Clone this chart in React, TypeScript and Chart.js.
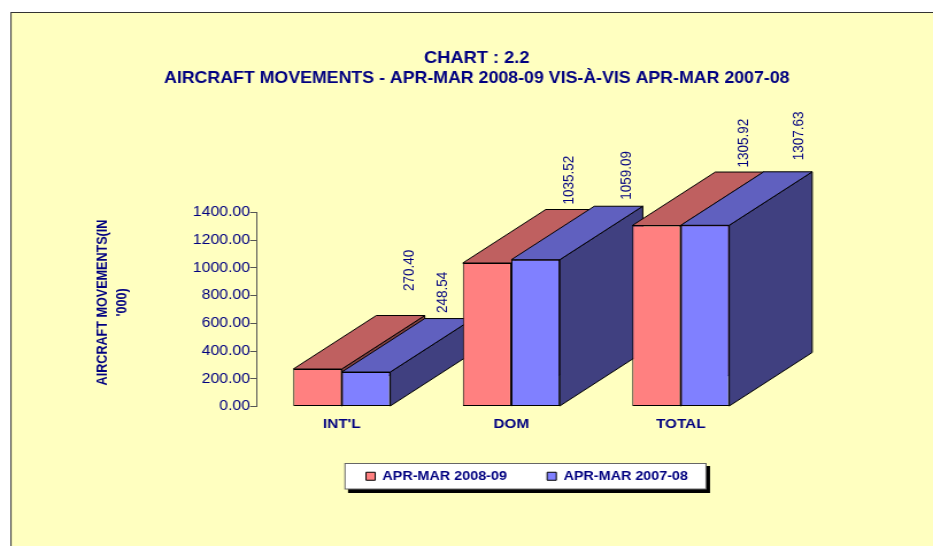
import React, { useEffect, useRef } from "react";
import { Chart, registerables } from "chart.js";

Chart.register(...registerables);

const categories = ["INT'L", "DOM", "TOTAL"];
const seriesNames = ["APR-MAR 2008-09", "APR-MAR 2007-08"];
const values2008 = [270.4, 1035.52, 1305.92];
const values2007 = [248.54, 1059.09, 1307.63];
const yTitleLines = ["AIRCRAFT MOVEMENTS(IN", "'000)"];
const titleLines = ["CHART : 2.2", "AIRCRAFT MOVEMENTS - APR-MAR 2008-09 VIS-À-VIS APR-MAR 2007-08"];

// the reference is horizontally stretched: the canvas is drawn narrow and displayed at full width
const PAGE_W = 933;
const PAGE_H = 546;
const SX = 1.149;
const W = Math.round(PAGE_W / SX);
const px = (x: number) => x / SX;

const NAVY = "#000080";
const BG = "#FFFFC0";
const fronts = ["#FF8080", "#8080FF"];
const tops = ["#BF6060", "#6060BF"];
const sides = ["#804040", "#404080"];
const DX = px(83);
const DY = -53.5;
// label nudges: [dataset][category] -> [x (page px), y]
const labelNudges = [
  [[8.5, -24.5], [-0.5, -5], [4, -4.5]],
  [[-6, -5.5], [8.2, -6.5], [10.5, -11.5]],
];

const threeD = {
  id: "threeD",
  beforeDraw(chart: any) {
    const { ctx } = chart;
    ctx.save();
    ctx.fillStyle = "#fff";
    ctx.fillRect(0, 0, chart.width, chart.height);
    ctx.fillStyle = BG;
    ctx.strokeStyle = "#333";
    ctx.lineWidth = 1;
    ctx.fillRect(px(11), 12.5, chart.width, chart.height);
    ctx.strokeRect(px(11), 12.5, chart.width + 20, chart.height + 20);
    // legend panel
    ctx.fillStyle = "#000";
    ctx.fillRect(px(348), 466, px(362), 27);
    ctx.fillStyle = "#fff";
    ctx.strokeStyle = "#666";
    ctx.fillRect(px(345), 463.5, px(361), 25.5);
    ctx.strokeRect(px(345), 463.5, px(361), 25.5);
    ctx.restore();
  },
  afterLayout(chart: any) {
    const t = chart.titleBlock;
    t.left += px(24);
    t.right += px(24);
    const l = chart.legend;
    const shift = px(527) - (l.left + l.right) / 2;
    l.left += shift;
    l.right += shift;
    l.top = 477 - 35 - 7;
  },
  beforeDatasetsDraw(chart: any) {
    const { ctx } = chart;
    const n = chart.data.labels.length;
    for (let c = 0; c < n; c++) {
      chart.data.datasets.forEach((_: any, d: number) => {
        const bar = chart.getDatasetMeta(d).data[c];
        const { x, y, base, width } = bar.getProps(["x", "y", "base", "width"], true);
        const l = x - width / 2;
        const r = x + width / 2;
        ctx.save();
        ctx.strokeStyle = "#000";
        ctx.lineWidth = 1;
        ctx.lineJoin = "round";
        ctx.fillStyle = sides[d];
        ctx.beginPath();
        ctx.moveTo(r, y);
        ctx.lineTo(r + DX, y + DY);
        ctx.lineTo(r + DX, base + DY);
        ctx.lineTo(r, base);
        ctx.closePath();
        ctx.fill();
        ctx.stroke();
        ctx.fillStyle = tops[d];
        ctx.beginPath();
        ctx.moveTo(l, y);
        ctx.lineTo(l + DX, y + DY);
        ctx.lineTo(r + DX, y + DY);
        ctx.lineTo(r, y);
        ctx.closePath();
        ctx.fill();
        ctx.stroke();
        ctx.restore();
        bar.draw(ctx);
      });
    }
    return false;
  },
  afterDraw(chart: any) {
    const { ctx } = chart;
    ctx.save();
    ctx.fillStyle = NAVY;
    ctx.textBaseline = "middle";
    ctx.textAlign = "left";
    ctx.font = "13.5px 'Liberation Sans'";
    chart.data.datasets.forEach((ds: any, d: number) => {
      ds.data.forEach((v: number, c: number) => {
        const bar = chart.getDatasetMeta(d).data[c];
        const [nx, ny] = labelNudges[d][c];
        ctx.save();
        ctx.translate(bar.x + DX + px(nx), bar.y + DY + ny);
        ctx.rotate(-Math.PI / 2);
        ctx.fillText(v.toFixed(2), 0, 0);
        ctx.restore();
      });
    });
    // two-line rotated y axis title
    ctx.font = "bold 12.6px 'Liberation Sans'";
    ctx.textAlign = "center";
    yTitleLines.forEach((line, i) => {
      ctx.save();
      ctx.translate(px(103 + i * 19.5), 302.5);
      ctx.rotate(-Math.PI / 2);
      ctx.fillText(line, 0, 0);
      ctx.restore();
    });
    ctx.restore();
  },
};

export default function App() {
  const ref = useRef<HTMLCanvasElement>(null);
  useEffect(() => {
    const chart = new Chart(ref.current!, {
      type: "bar",
      data: {
        labels: categories,
        datasets: [values2008, values2007].map((data, i) => ({
          label: seriesNames[i],
          data,
          backgroundColor: fronts[i],
          borderColor: "#000",
          borderWidth: 1,
          borderSkipped: false,
          categoryPercentage: 0.572,
          barPercentage: 1,
        })),
      },
      options: {
        animation: false,
        responsive: false,
        devicePixelRatio: 1,
        layout: { padding: { left: px(140), right: PAGE_W / SX - px(765.5), top: 0, bottom: 0 } },
        plugins: {
          title: {
            display: true,
            text: titleLines,
            color: NAVY,
            font: { family: "'Liberation Sans'", size: 15.9, weight: "bold", lineHeight: 20 / 15.9 },
            padding: { top: 49, bottom: 123.5 },
          },
          legend: {
            display: true,
            position: "bottom",
            labels: {
              color: NAVY,
              font: { family: "'Liberation Sans'", size: 12.5, weight: "bold" },
              boxWidth: 8,
              boxHeight: 8,
              padding: 35,
            },
          },
          tooltip: { enabled: false },
        },
        scales: {
          x: {
            afterFit: (s: any) => {
              s.height = 139.5 - s.chart.legend.height;
            },
            grid: { display: false },
            border: { display: false },
            ticks: {
              color: NAVY,
              padding: 1.5,
              maxRotation: 0,
              font: { family: "'Liberation Sans'", size: 13.3, weight: "bold" },
            },
          },
          y: {
            min: 0,
            max: 1400,
            afterFit: (s: any) => {
              s.width = px(117);
            },
            grid: { drawOnChartArea: false, color: "#555", tickLength: 6 },
            border: { display: true, color: "#555" },
            ticks: {
              stepSize: 200,
              color: NAVY,
              padding: 0,
              font: { family: "'Liberation Sans'", size: 13.8 },
              callback: (v: any) => Number(v).toFixed(2),
            },
          },
        },
      },
      plugins: [threeD],
    } as any);
    return () => chart.destroy();
  }, []);
  return (
    <canvas
      ref={ref}
      width={W}
      height={PAGE_H}
      style={{ position: "fixed", left: 0, top: 0, width: PAGE_W, height: PAGE_H, display: "block" }}
    />
  );
}
